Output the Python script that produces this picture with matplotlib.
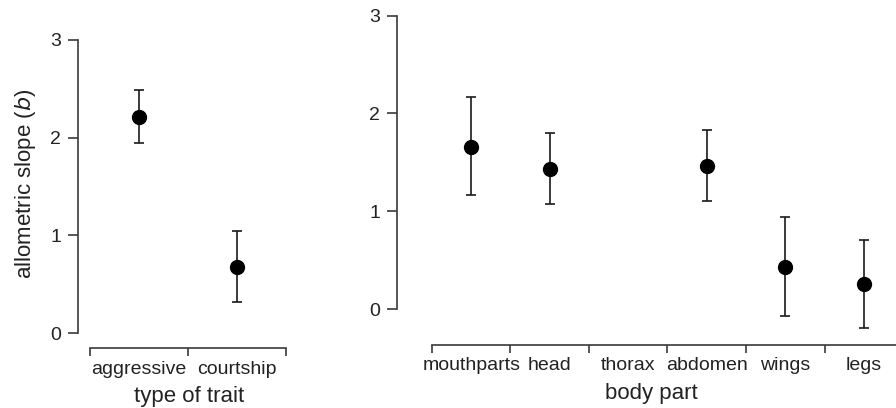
import numpy as np
import matplotlib
matplotlib.use("Agg")
import matplotlib.pyplot as plt

plt.rcParams['font.family'] = ['Liberation Sans', 'DejaVu Sans']

# Left panel data
trait_types = ["aggressive", "courtship"]
trait_slope = [2.21, 0.68]
trait_upper = [2.49, 1.045]
trait_lower = [1.945, 0.32]

# Right panel data
body_parts = ["mouthparts", "head", "thorax", "abdomen", "wings", "legs"]
part_slope = [1.66, 1.43, np.nan, 1.465, 0.43, 0.255]
part_upper = [2.165, 1.80, np.nan, 1.83, 0.945, 0.71]
part_lower = [1.17, 1.08, np.nan, 1.105, -0.07, -0.195]

W, H = 896, 408
fig = plt.figure(figsize=(W / 100, H / 100), dpi=100)

TXT = "#222222"
AX = "#3a3a3a"


def px_axes(left, right, top, bottom):
    return fig.add_axes([left / W, (H - bottom) / H, (right - left) / W, (bottom - top) / H])


def style(ax, ncat, labels, xlabel):
    for s in ("top", "right"):
        ax.spines[s].set_visible(False)
    for s in ("left", "bottom"):
        ax.spines[s].set_color(AX)
        ax.spines[s].set_linewidth(1.2)
    ax.spines["left"].set_bounds(0, 3)
    ax.spines["bottom"].set_bounds(0.5, ncat + 0.5)
    ax.set_yticks([0, 1, 2, 3])
    ax.set_yticklabels(["0", "1", "2", "3"])
    ax.tick_params(axis="y", length=7, width=1.2, color=AX, labelsize=14,
                   labelcolor=TXT, pad=5)
    ax.set_xticks(np.arange(0.5, ncat + 1.0, 1.0))
    ax.set_xticklabels([])
    ax.tick_params(axis="x", which="major", length=6, width=1.2, color=AX)
    ax.set_xticks(np.arange(1, ncat + 1), minor=True)
    ax.set_xticklabels(labels, minor=True)
    ax.tick_params(axis="x", which="minor", length=0, labelsize=14,
                   labelcolor=TXT, pad=9)
    ax.set_xlabel(xlabel, fontsize=16, color=TXT, labelpad=6)


def draw(ax, x, y, lo, hi):
    y = np.asarray(y, float)
    err = np.vstack([y - np.asarray(lo, float), np.asarray(hi, float) - y])
    ax.errorbar(x, y, yerr=err, fmt="o", color="black", ecolor="#1a1a1a",
                elinewidth=1.2, capsize=3.4, capthick=1.2, markersize=10,
                zorder=3)


# Left panel
ax1 = px_axes(78, 300, 20, 348)
x1 = np.arange(1, len(trait_types) + 1)
draw(ax1, x1, trait_slope, trait_lower, trait_upper)
ax1.set_xlim(0.3776, 2.643)
ax1.set_ylim(-0.1535, 3.204)
style(ax1, len(trait_types), trait_types, "type of trait")
ax1.set_ylabel("allometric slope ($\\mathit{b}$)", fontsize=16, color=TXT, labelpad=9)

# Right panel
ax2 = px_axes(397, 905, 10, 345)
x2 = np.arange(1, len(body_parts) + 1)
draw(ax2, x2, part_slope, part_lower, part_upper)
ax2.set_xlim(0.0547, 6.525)
ax2.set_ylim(-0.3647, 3.057)
style(ax2, len(body_parts), body_parts, "body part")

fig.savefig("out.png", dpi=100)
